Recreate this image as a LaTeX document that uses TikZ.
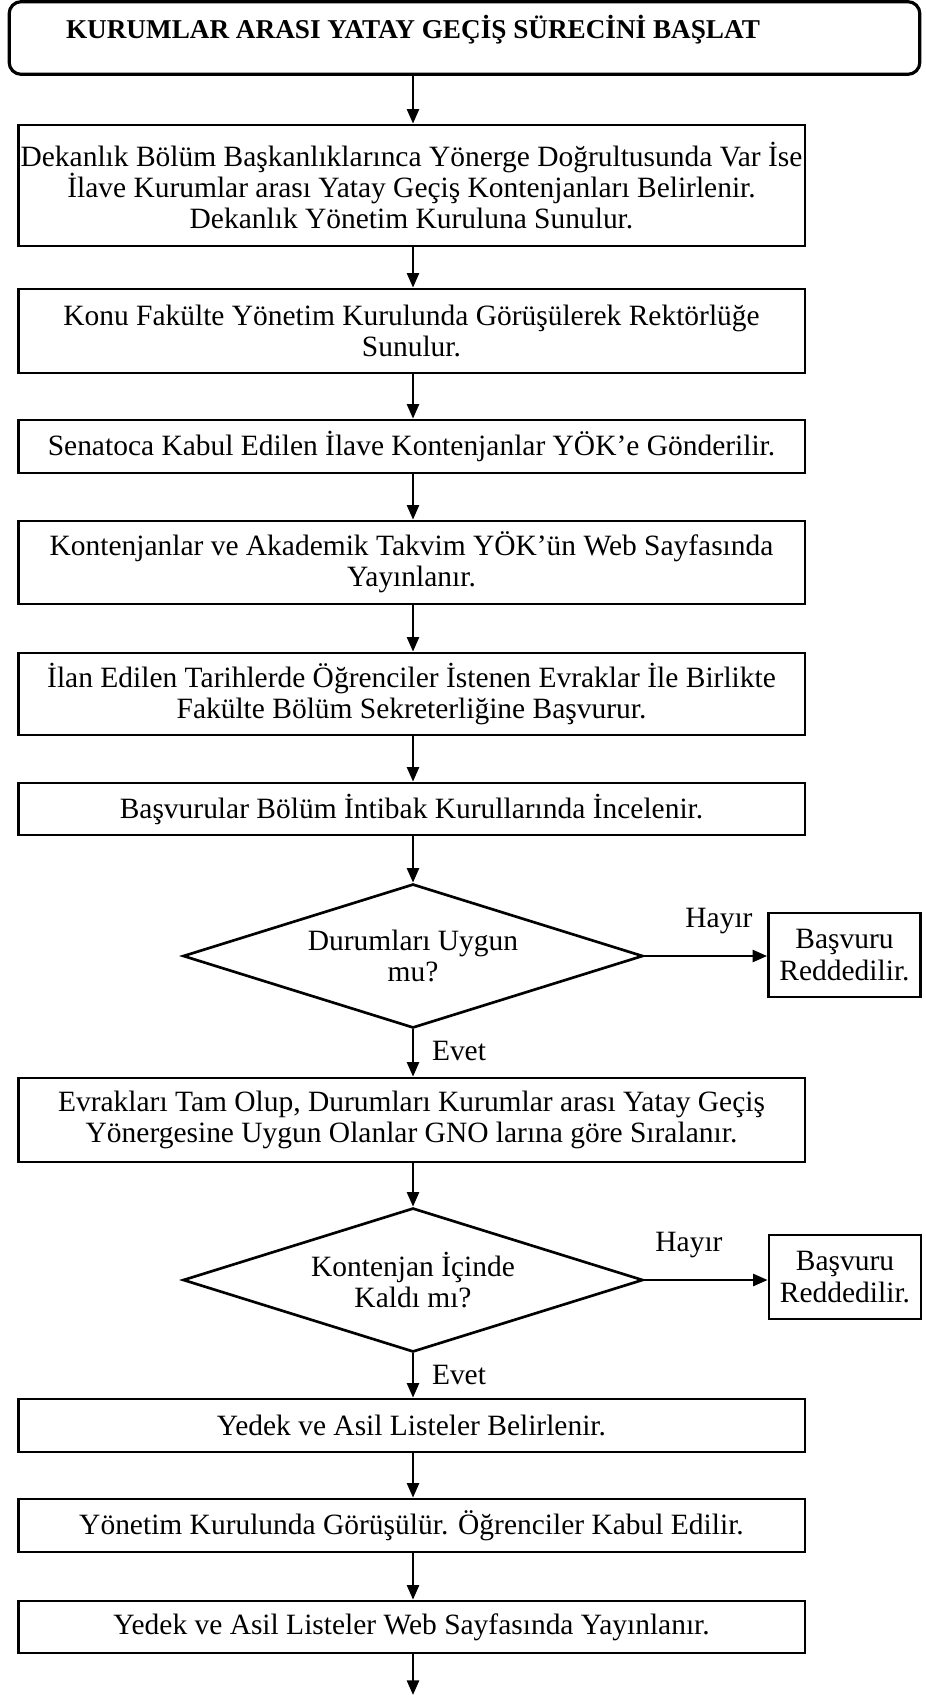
\documentclass[tikz,border=0pt]{standalone}
\usepackage{fontspec}
\setmainfont{Liberation Serif}
\usetikzlibrary{shapes.geometric,arrows.meta}
\newcommand\stepfont{\fontsize{22.1pt}{23.4pt}\selectfont}
\newcommand\titlefont{\fontsize{20.4pt}{22pt}\selectfont\bfseries}
\tikzset{
  every node/.style={font=\stepfont, inner sep=0pt},
  stepbox/.style={draw, line width=2pt, rectangle, minimum width=590pt, align=center},
  startbox/.style={draw, line width=2.4pt, rectangle, rounded corners=9pt},
  sidebox/.style={draw, line width=2pt, rectangle, minimum width=114pt, minimum height=63pt, align=center},
  decision/.style={draw, line width=2pt, diamond, shape aspect=3.19, minimum width=345pt, minimum height=108pt, align=center},
  flow/.style={line width=2pt, -{Triangle[length=11pt,width=9pt]}},
  note/.style={anchor=center}
}
\begin{document}
\begin{tikzpicture}[x=0.75pt, y=-0.75pt]
\useasboundingbox (0,0) rectangle (925,1695);

% start terminal
\node[startbox, minimum width=683pt, minimum height=54.5pt] (start) at (464.5,38) {};
\node[font=\titlefont] (starttext) at (413,29.5) {KURUMLAR ARASI YATAY GEÇİŞ SÜRECİNİ BAŞLAT};

% process steps
\node[stepbox, minimum height=90.75pt] (b1) at (411.5,185.5)
  {Dekanlık Bölüm Başkanlıklarınca Yönerge Doğrultusunda Var İse\\İlave Kurumlar arası Yatay Geçiş Kontenjanları Belirlenir.\\Dekanlık Yönetim Kuruluna Sunulur.};
\node[stepbox, minimum height=63pt] (b2) at (411.5,331)
  {Konu Fakülte Yönetim Kurulunda Görüşülerek Rektörlüğe\\Sunulur.};
\node[stepbox, minimum height=39.75pt] (b3) at (411.5,446.5)
  {Senatoca Kabul Edilen İlave Kontenjanlar YÖK’e Gönderilir.};
\node[stepbox, minimum height=62.25pt] (b4) at (411.5,562.5)
  {Kontenjanlar ve Akademik Takvim YÖK’ün Web Sayfasında\\Yayınlanır.};
\node[stepbox, minimum height=61.5pt] (b5) at (411.5,694)
  {İlan Edilen Tarihlerde Öğrenciler İstenen Evraklar İle Birlikte\\Fakülte Bölüm Sekreterliğine Başvurur.};
\node[stepbox, minimum height=39pt] (b6) at (411.5,809)
  {Başvurular Bölüm İntibak Kurullarında İncelenir.};

% first decision
\node[decision] (d1) at (413,956) {Durumları Uygun\\mu?};
\node[sidebox] (r1) at (844.5,955) {Başvuru\\Reddedilir.};

\node[stepbox, minimum height=63pt] (b7) at (411.5,1120)
  {Evrakları Tam Olup, Durumları Kurumlar arası Yatay Geçiş\\Yönergesine Uygun Olanlar GNO larına göre Sıralanır.};

% second decision
\node[decision] (d2) at (413,1280) {Kontenjan İçinde\\Kaldı mı?};
\node[sidebox] (r2) at (845,1277) {Başvuru\\Reddedilir.};

\node[stepbox, minimum height=39.75pt] (b8) at (411.5,1425.5)
  {Yedek ve Asil Listeler Belirlenir.};
\node[stepbox, minimum height=39.75pt] (b9) at (411.5,1525.5)
  {Yönetim Kurulunda Görüşülür. Öğrenciler Kabul Edilir.};
\node[stepbox, minimum height=39pt] (b10) at (411.5,1627)
  {Yedek ve Asil Listeler Web Sayfasında Yayınlanır.};
\coordinate (out) at (413,1695);

% connectors
\draw[flow] (start.south -| d1.north) -- (b1.north -| d1.north);
\draw[flow] (b1.south -| d1.north) -- (b2.north -| d1.north);
\draw[flow] (b2.south -| d1.north) -- (b3.north -| d1.north);
\draw[flow] (b3.south -| d1.north) -- (b4.north -| d1.north);
\draw[flow] (b4.south -| d1.north) -- (b5.north -| d1.north);
\draw[flow] (b5.south -| d1.north) -- (b6.north -| d1.north);
\draw[flow] (b6.south -| d1.north) -- (d1.north);
\draw[flow] (d1.east) -- (d1.east -| r1.west);
\draw[flow] (d1.south) -- (b7.north -| d1.south);
\draw[flow] (b7.south -| d2.north) -- (d2.north);
\draw[flow] (d2.east) -- (d2.east -| r2.west);
\draw[flow] (d2.south) -- (b8.north -| d2.south);
\draw[flow] (b8.south -| d2.north) -- (b9.north -| d2.north);
\draw[flow] (b9.south -| d2.north) -- (b10.north -| d2.north);
\draw[flow] (b10.south -| d2.north) -- (out);

% branch labels
\node[note] (h1) at (719,921) {Hayır};
\node[note] (h2) at (689,1245) {Hayır};
\node[note] (e1) at (459,1051) {Evet};
\node[note] (e2) at (459,1375) {Evet};
\end{tikzpicture}
\end{document}
